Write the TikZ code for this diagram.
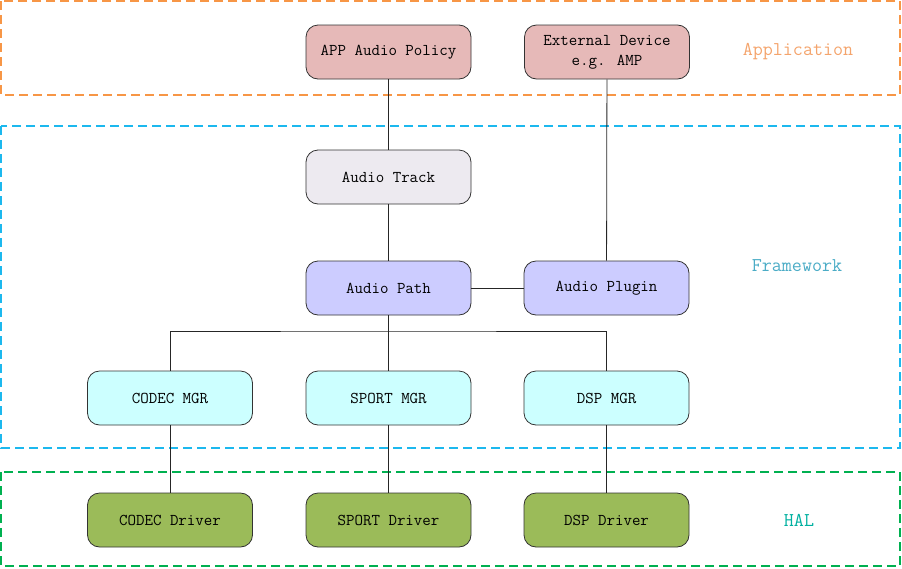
\documentclass[tikz,border=0pt]{standalone}
\usepackage{fontspec}
\setmainfont{Latin Modern Mono}
\usepackage{tikz}
\usetikzlibrary{positioning}
\definecolor{appline}{HTML}{F79646}
\definecolor{fwline}{HTML}{1CB8EE}
\definecolor{halline}{HTML}{00B050}
\definecolor{applabel}{HTML}{F4A46C}
\definecolor{fwlabel}{HTML}{4BACC6}
\definecolor{hallabel}{HTML}{00B0A0}
\definecolor{pinkfill}{HTML}{E6B9B8}
\definecolor{greyfill}{HTML}{EDEAF0}
\definecolor{bluefill}{HTML}{CCCCFF}
\definecolor{cyanfill}{HTML}{CCFFFF}
\definecolor{greenfill}{HTML}{9BBB59}
\tikzset{
  block/.style={draw=black!80, line width=0.8pt, rounded corners=12pt, minimum width=165pt,
    minimum height=54pt, align=center, font=\fontsize{16.5}{20}\selectfont, inner sep=0pt},
  layer/.style={dashed, dash pattern=on 9pt off 5pt, line width=1.1pt},
  layerlabel/.style={font=\fontsize{19.5}{23}\selectfont},
  link/.style={draw=black!85, line width=0.8pt}
}

\begin{document}
\begin{tikzpicture}[x=1pt, y=-1pt]
              \useasboundingbox (0,0) rectangle (902,568);

              % Layer frames
              \draw[layer, appline] (1,1) rectangle (900,95);
              \draw[layer, fwline] (1,126) rectangle (900,448);
              \draw[layer, halline] (1,472) rectangle (900,566);

              % Layer names
              \node[layerlabel, text=applabel] (applbl) at (798,52) {Application};
              \node[layerlabel, text=fwlabel] (fwlbl) at (797,266) {Framework};
              \node[layerlabel, text=hallabel] (hallbl) at (799,520) {HAL};

              % Application blocks
              \node[block, fill=pinkfill] (policy) at (388.5,52) {APP Audio Policy};
              \node[block, fill=pinkfill] (extdev) at (607,52) {External Device\\e.g. AMP};

              % Framework blocks
              \node[block, fill=greyfill] (track) at (388.5,177) {Audio Track};
              \node[block, fill=bluefill] (path) at (388.5,288) {Audio Path};
              \node[block, fill=bluefill] (plugin) at (606.5,288) {Audio Plugin};
              \node[block, fill=cyanfill] (codecmgr) at (170,398) {CODEC MGR};
              \node[block, fill=cyanfill] (sportmgr) at (388.5,398) {SPORT MGR};
              \node[block, fill=cyanfill] (dspmgr) at (606.5,398) {DSP MGR};

              % HAL blocks
              \node[block, fill=greenfill] (codecdrv) at (170,520) {CODEC Driver};
              \node[block, fill=greenfill] (sportdrv) at (388.5,520) {SPORT Driver};
              \node[block, fill=greenfill] (dspdrv) at (606.5,520) {DSP Driver};

              % Connections
              \coordinate (bus) at (388.5,331);
              \draw[link] (policy) -- (track);
              \draw[link] (extdev) -- (plugin);
              \draw[link] (track) -- (path);
              \draw[link] (path) -- (plugin);
              \draw[link] (path) -- (sportmgr);
              \draw[link] (codecmgr.north) |- (bus) -| (dspmgr.north);
              \draw[link] (codecmgr) -- (codecdrv);
              \draw[link] (sportmgr) -- (sportdrv);
              \draw[link] (dspmgr) -- (dspdrv);
            \end{tikzpicture}
\end{document}
